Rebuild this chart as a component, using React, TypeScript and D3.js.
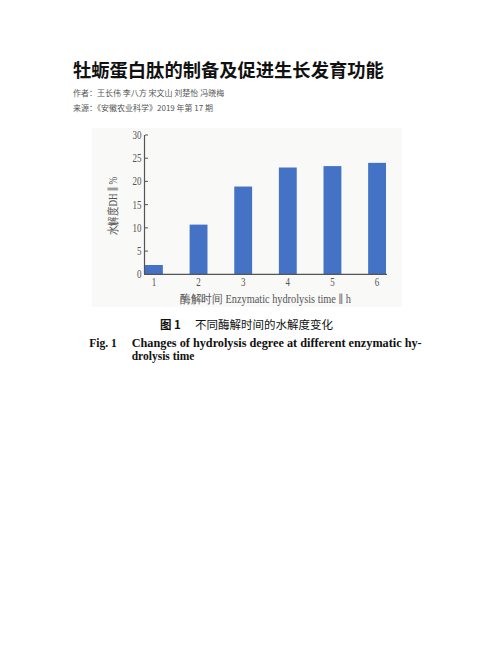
import React from 'react';
import * as d3 from 'd3';

const hours = ['1', '2', '3', '4', '5', '6'];
const dhValues = [2.0, 10.7, 18.9, 23.0, 23.3, 24.0];
const yTicks = [0, 5, 10, 15, 20, 25, 30];

const title = '牡蛎蛋白肽的制备及促进生长发育功能';
const authorLine = '作者：王长伟 李八方 宋文山 刘楚怡 冯晓梅';
const sourceLine = '来源：《安徽农业科学》2019 年第 17 期';
const yTitle = '水解度DH ∥ %';
const xTitle = '酶解时间 Enzymatic hydrolysis time ∥ h';
const captionCn = '不同酶解时间的水解度变化';
const captionEn1 = 'Changes of hydrolysis degree at different enzymatic hy-';
const captionEn2 = 'drolysis time';

const App: React.FC = () => {
  const width = 502;
  const height = 649;

  // plot area
  const left = 145;
  const right = 386;
  const top = 135;
  const bottom = 274.3;

  const x = d3.scaleBand<string>().domain(hours).range([left, right]).paddingInner(0.6).paddingOuter(0);
  const y = d3.scaleLinear().domain([0, 30]).range([bottom, top]);

  const axisColor = '#555';
  const serif = '"Liberation Serif", "DejaVu Serif", serif';
  const cjk = '"Noto Sans CJK SC", sans-serif';

  return (
    <svg
      width={width}
      height={height}
      style={{ position: 'absolute', left: 0, top: 0, background: '#fff' }}
    >
      {/* header */}
      <text x={73} y={77} fontFamily={cjk} fontWeight={700} fontSize={18.3} fill="#111">
        {title}
      </text>
      <text x={73} y={96} fontFamily={cjk} fontSize={8} fill="#555">
        {authorLine}
      </text>
      <text x={73} y={111} fontFamily={cjk} fontSize={8} fill="#555">
        {sourceLine}
      </text>

      {/* figure background */}
      <rect x={92} y={128} width={310} height={179} fill="#f9f9f8" />

      {/* bars */}
      {dhValues.map((v, i) => (
        <rect
          key={hours[i]}
          x={x(hours[i])}
          y={y(v)}
          width={x.bandwidth()}
          height={bottom - y(v)}
          fill="#4472c4"
        />
      ))}

      {/* axes */}
      <line x1={left - 0.5} x2={left - 0.5} y1={top} y2={bottom} stroke={axisColor} strokeWidth={1.2} />
      <line x1={left - 1} x2={right + 1} y1={bottom} y2={bottom} stroke={axisColor} strokeWidth={1.2} />
      {yTicks.map((t) => (
        <g key={t}>
          <line x1={left} x2={left + 3} y1={y(t)} y2={y(t)} stroke={axisColor} strokeWidth={1} />
          <text
            transform={`translate(${left - 3.5},${y(t) + 4}) scale(0.72,1)`}
            textAnchor="end"
            fontFamily={serif}
            fontSize={12.5}
            fill="#555"
          >
            {t}
          </text>
        </g>
      ))}
      {hours.map((h) => (
        <text
          key={h}
          transform={`translate(${(x(h) ?? 0) + x.bandwidth() / 2},${bottom + 12}) scale(0.72,1)`}
          textAnchor="middle"
          fontFamily={serif}
          fontSize={12.5}
          fill="#555"
        >
          {h}
        </text>
      ))}

      {/* axis titles */}
      <text
        x={265.5}
        y={302.5}
        textAnchor="middle"
        fontFamily={serif}
        fontSize={11.5}
        fill="#555"
        textLength={171}
        lengthAdjust="spacingAndGlyphs"
      >
        {xTitle}
      </text>
      <text
        transform="translate(117,206) rotate(-90)"
        textAnchor="middle"
        fontFamily={serif}
        fontSize={11.5}
        fill="#555"
        textLength={58}
        lengthAdjust="spacingAndGlyphs"
      >
        {yTitle}
      </text>

      {/* caption */}
      <text x={160} y={329} fontFamily={cjk} fontWeight={700} fontSize={11.5} fill="#111">
        图 1
      </text>
      <text x={195} y={329} fontFamily={cjk} fontSize={11.5} fill="#111">
        {captionCn}
      </text>
      <text x={89.3} y={346.5} fontFamily={serif} fontWeight={700} fontSize={11.5} fill="#111">
        Fig. 1
      </text>
      <text
        x={131.7}
        y={346.5}
        fontFamily={serif}
        fontWeight={700}
        fontSize={11.5}
        fill="#111"
        textLength={290}
        lengthAdjust="spacingAndGlyphs"
      >
        {captionEn1}
      </text>
      <text x={131.7} y={359.5} fontFamily={serif} fontWeight={700} fontSize={11.5} fill="#111">
        {captionEn2}
      </text>
    </svg>
  );
};

export default App;
